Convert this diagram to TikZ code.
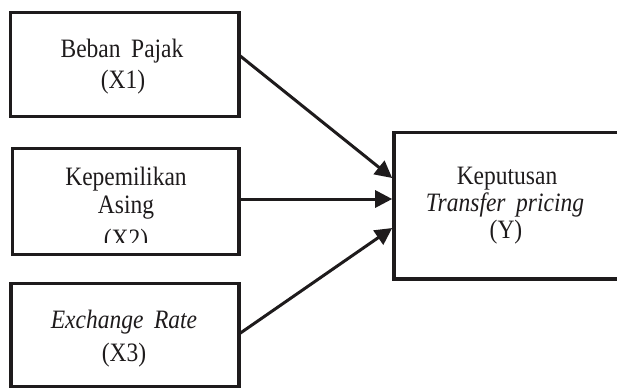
\documentclass[tikz,border=0pt]{standalone}
\usepackage{graphicx}
\usepackage{fontspec}
\setmainfont{Liberation Serif}
\usetikzlibrary{arrows.meta}
\definecolor{ink}{RGB}{30,27,28}
\newcommand{\tallt}[1]{\scalebox{1}[1.13]{#1}}
\tikzset{
  box/.style={draw=ink, line width=3.3bp, inner sep=0pt, outer sep=0pt},
  lbl/.style={anchor=base, inner sep=0pt, text=ink, font=\fontsize{23.5bp}{28bp}\selectfont},
  conn/.style={draw=ink, line width=3bp, -{Triangle[length=17bp,width=17bp]}}
}
\begin{document}
\begin{tikzpicture}[x=1bp,y=-1bp]
\useasboundingbox (0,0) rectangle (617,389);
\clip (0,0) rectangle (617,389);
% boxes
\node[box, minimum width=228.7bp, minimum height=104.4bp] (b1) at (124.65,64.5) {};
\node[box, minimum width=226.7bp, minimum height=106.4bp] (b2) at (125.65,201.5) {};
\node[box, minimum width=228bp, minimum height=103.4bp] (b3) at (125,335) {};
\node[box, minimum width=236bp, minimum height=146.7bp] (by) at (512,205.65) {};
% labels
\node[lbl] (t1a) at (122,57) {\tallt{Beban\hspace{0.45em}Pajak}};
\node[lbl] (t1b) at (123,88) {\tallt{(X1)}};
\begin{scope}
\clip (14,150) rectangle (237,242);
\node[lbl] (t2a) at (126,185) {\tallt{Kepemilikan}};
\node[lbl] (t2b) at (126,213) {\tallt{Asing}};
\node[lbl] (t2c) at (126,247) {\tallt{(X2)}};
\end{scope}
\node[lbl] (t3a) at (124,328) {\tallt{\itshape Exchange\hspace{0.45em}Rate}};
\node[lbl] (t3b) at (124,361) {\tallt{(X3)}};
\node[lbl] (tya) at (507,184) {\tallt{Keputusan}};
\node[lbl] (tyb) at (505,211) {\tallt{\itshape Transfer\hspace{0.45em}pricing}};
\node[lbl] (tyc) at (506,238) {\tallt{(Y)}};
% connector end points
\coordinate (s1) at (b1.east |- 0,55);
\coordinate (s2) at (b2.east |- 0,199);
\coordinate (s3) at (b3.east |- 0,334);
\coordinate (e1) at ([xshift=-1.8bp]by.west |- 0,178);
\coordinate (e2) at ([xshift=-1.8bp]by.west |- 0,199);
\coordinate (e3) at ([xshift=-1.8bp]by.west |- 0,228);
\draw[conn] (s1) -- (e1);
\draw[conn] (s2) -- (e2);
\draw[conn] (s3) -- (e3);
\end{tikzpicture}
\end{document}
